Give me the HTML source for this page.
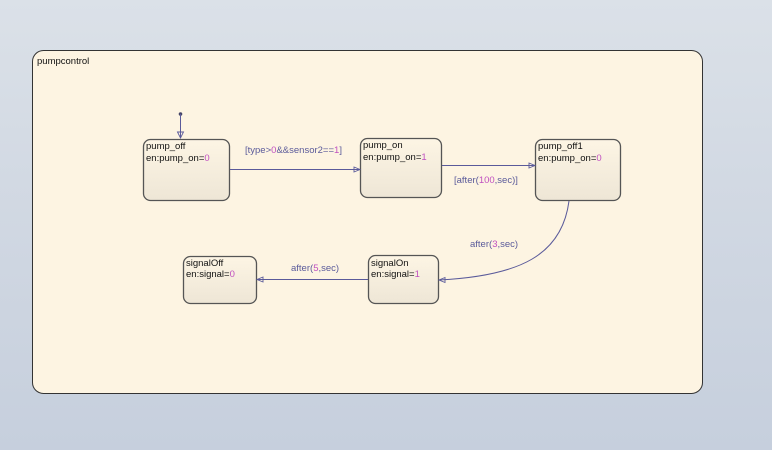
<!DOCTYPE html>
<html><head><meta charset="utf-8">
<style>
html,body{margin:0;padding:0;width:772px;height:450px;overflow:hidden;}
body{background:linear-gradient(#dbe1e8 0%,#d2d9e3 40%,#c6cfdd 100%);}
svg{position:absolute;left:0;top:0;}
text{font-family:"Liberation Sans",sans-serif;font-size:9.5px;}
.s{fill:#111;}
.g{fill:#5a5a9a;}
.m{fill:#c050c0;}
</style></head><body>
<svg width="772" height="450" viewBox="0 0 772 450">
<defs>
<linearGradient id="st" x1="0" y1="0" x2="0" y2="1">
<stop offset="0" stop-color="#fdf5e4"/><stop offset="1" stop-color="#eee6d6"/>
</linearGradient>
</defs>
<rect x="32.5" y="50.5" width="670" height="343" rx="11" fill="#fdf4e2" stroke="#333" stroke-width="1"/>
<text x="37" y="64" class="s">pumpcontrol</text>

<!-- states -->
<rect x="143.5" y="139.5" width="86" height="61" rx="7" fill="url(#st)" stroke="#555" stroke-width="1.3"/>
<text x="146" y="149" class="s">pump_off</text>
<text x="146" y="161" class="s">en:pump_on=<tspan class="m">0</tspan></text>

<rect x="360.5" y="138.5" width="81" height="59" rx="7" fill="url(#st)" stroke="#555" stroke-width="1.3"/>
<text x="363" y="148" class="s">pump_on</text>
<text x="363" y="160" class="s">en:pump_on=<tspan class="m">1</tspan></text>

<rect x="535.5" y="139.5" width="85" height="61" rx="7" fill="url(#st)" stroke="#555" stroke-width="1.3"/>
<text x="538" y="149" class="s">pump_off1</text>
<text x="538" y="161" class="s">en:pump_on=<tspan class="m">0</tspan></text>

<rect x="368.5" y="255.5" width="70" height="48" rx="7" fill="url(#st)" stroke="#555" stroke-width="1.3"/>
<text x="371" y="266" class="s">signalOn</text>
<text x="371" y="277" class="s">en:signal=<tspan class="m">1</tspan></text>

<rect x="183.5" y="256.5" width="73" height="47" rx="7" fill="url(#st)" stroke="#555" stroke-width="1.3"/>
<text x="186" y="266" class="s">signalOff</text>
<text x="186" y="277" class="s">en:signal=<tspan class="m">0</tspan></text>

<!-- default transition -->
<circle cx="180.5" cy="114" r="1.8" fill="#446"/>
<line x1="180.5" y1="114" x2="180.5" y2="138" stroke="#5a5a9a" stroke-width="1"/>
<path d="M177.5,132 L180.5,138 L183.5,132 Z" fill="none" stroke="#5a5a9a" stroke-width="0.9"/>

<!-- pump_off -> pump_on -->
<line x1="230" y1="169.5" x2="360" y2="169.5" stroke="#5a5a9a" stroke-width="1"/>
<path d="M354,167 L360,169.5 L354,172 Z" fill="none" stroke="#5a5a9a" stroke-width="0.9"/>
<text x="245" y="153" class="g">[type&gt;<tspan class="m">0</tspan>&amp;&amp;sensor2==<tspan class="m">1</tspan>]</text>

<!-- pump_on -> pump_off1 -->
<line x1="442" y1="165.5" x2="535" y2="165.5" stroke="#5a5a9a" stroke-width="1"/>
<path d="M529,163 L535,165.5 L529,168 Z" fill="none" stroke="#5a5a9a" stroke-width="0.9"/>
<text x="454" y="183" class="g">[after(<tspan class="m">100</tspan>,sec)]</text>

<!-- pump_off1 -> signalOn -->
<path d="M569,201 C562,255 520,276 439,280" fill="none" stroke="#5a5a9a" stroke-width="1"/>
<path d="M445,277.5 L439,280 L445,282.5 Z" fill="none" stroke="#5a5a9a" stroke-width="0.9"/>
<text x="470" y="247" class="g">after(<tspan class="m">3</tspan>,sec)</text>

<!-- signalOn -> signalOff -->
<line x1="368" y1="279.5" x2="257" y2="279.5" stroke="#5a5a9a" stroke-width="1"/>
<path d="M263,277 L257,279.5 L263,282 Z" fill="none" stroke="#5a5a9a" stroke-width="0.9"/>
<text x="291" y="271" class="g">after(<tspan class="m">5</tspan>,sec)</text>
</svg>
</body></html>
